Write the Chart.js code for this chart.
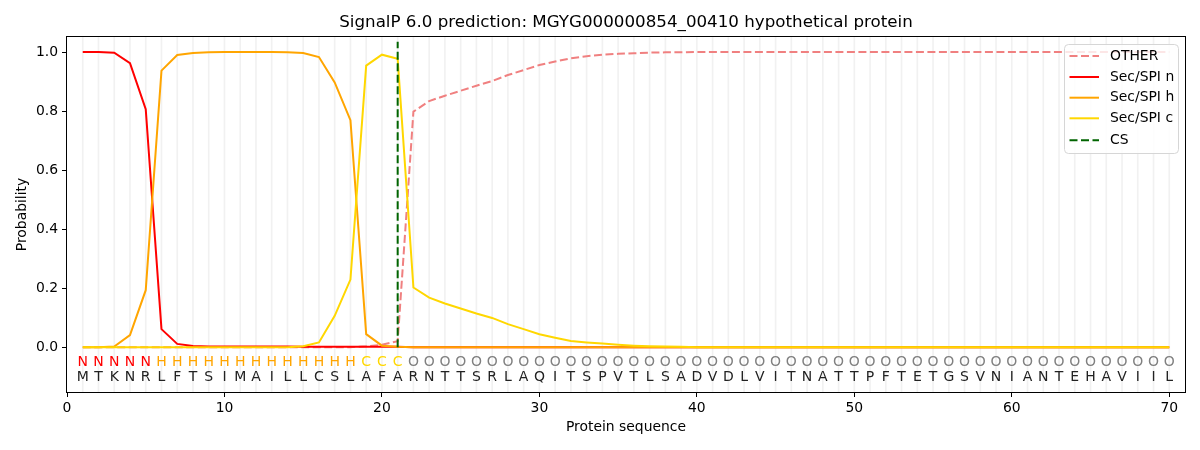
<!DOCTYPE html>
<html><head><meta charset="utf-8">
<script src="https://cdn.jsdelivr.net/npm/chart.js@4"></script>
<style>html,body{margin:0;padding:0;background:#fff}</style>
</head><body>
<canvas id="c" width="1200" height="450"></canvas>
<script>
// ---- data ----
const sequence = ["M","T","K","N","R","L","F","T","S","I","M","A","I","L","L","C","S","L","A","F",
  "A","R","N","T","T","S","R","L","A","Q","I","T","S","P","V","T","L","S","A","D",
  "V","D","L","V","I","T","N","A","T","T","P","F","T","E","T","G","S","V","N","I",
  "A","N","T","E","H","A","V","I","I","L"];
const regionLabels = ["N","N","N","N","N","H","H","H","H","H","H","H","H","H","H","H","H","H","C","C",
  "C","O","O","O","O","O","O","O","O","O","O","O","O","O","O","O","O","O","O","O",
  "O","O","O","O","O","O","O","O","O","O","O","O","O","O","O","O","O","O","O","O",
  "O","O","O","O","O","O","O","O","O","O"];
const otherProb = [0,0,0,0,0,0,0,0,0,0, 0,0,0,0,0,0,0,0,0.003,0.008,
  0.02,0.798,0.834,0.852,0.869,0.886,0.902,0.922,0.939,0.956, 0.968,0.979,0.986,0.991,0.994,0.996,0.998,0.999,0.999,1,
  1,1,1,1,1,1,1,1,1,1, 1,1,1,1,1,1,1,1,1,1, 1,1,1,1,1,1,1,1,1,1];
const secN = [1,1,0.998,0.962,0.806,0.061,0.011,0.004,0.002,0.002, 0.002,0.002,0.002,0.002,0.001,0.001,0.001,0.001,0.001,0.001,
  0.001,0,0,0,0,0,0,0,0,0, 0,0,0,0,0,0,0,0,0,0, 0,0,0,0,0,0,0,0,0,0, 0,0,0,0,0,0,0,0,0,0, 0,0,0,0,0,0,0,0,0,0];
const secH = [0,0,0.002,0.041,0.193,0.937,0.990,0.997,0.999,1, 1,1,1,0.999,0.997,0.983,0.897,0.769,0.044,0.005,
  0.001,0,0,0,0,0,0,0,0,0, 0,0,0,0,0,0,0,0,0,0, 0,0,0,0,0,0,0,0,0,0, 0,0,0,0,0,0,0,0,0,0, 0,0,0,0,0,0,0,0,0,0];
const secC = [0,0,0,0,0,0,0,0,0,0, 0,0,0,0,0.003,0.016,0.106,0.229,0.954,0.991,
  0.977,0.202,0.168,0.148,0.131,0.114,0.099,0.078,0.061,0.044, 0.032,0.021,0.016,0.012,0.008,0.005,0.003,0.002,0.001,0,
  0,0,0,0,0,0,0,0,0,0, 0,0,0,0,0,0,0,0,0,0, 0,0,0,0,0,0,0,0,0,0];
const csPosition = 21;
const csSpan = [0, 1.035];
const xTickValues = [0,10,20,30,40,50,60,70];
const yTickValues = [0,0.2,0.4,0.6,0.8,1.0];
const titleText = "SignalP 6.0 prediction: MGYG000000854_00410 hypothetical protein";

const positions = sequence.map((_, i) => i + 1);
const pts = arr => arr.map((v, i) => ({x: positions[i], y: v}));
const labelColors = {N: "#ff0000", H: "#ffa500", C: "#ffd700", O: "#808080"};

Chart.defaults.font.family = '"DejaVu Sans", sans-serif';
Chart.defaults.color = '#000';

const legendItems = [
  {label: "OTHER", color: "#f08080", dash: [8, 3.5]},
  {label: "Sec/SPI n", color: "#ff0000", dash: []},
  {label: "Sec/SPI h", color: "#ffa500", dash: []},
  {label: "Sec/SPI c", color: "#ffd700", dash: []},
  {label: "CS", color: "#006400", dash: [8, 3.5]}
];

const overlay = {
  id: 'overlay',
  beforeDatasetsDraw(chart) {
    const {ctx, chartArea: a, scales: {x}} = chart;
    ctx.save();
    ctx.strokeStyle = 'rgba(0,0,0,0.055)';
    ctx.lineWidth = 1.7;
    positions.forEach(p => {
      const px = x.getPixelForValue(p);
      ctx.beginPath(); ctx.moveTo(px, a.top); ctx.lineTo(px, a.bottom); ctx.stroke();
    });
    ctx.restore();
  },
  afterDatasetsDraw(chart) {
    const {ctx, chartArea: a, scales: {x, y}} = chart;
    ctx.save();
    ctx.font = '14px "DejaVu Sans"';
    ctx.textAlign = 'center';
    ctx.textBaseline = 'middle';
    positions.forEach((p, i) => {
      const px = x.getPixelForValue(p);
      ctx.fillStyle = labelColors[regionLabels[i]];
      ctx.fillText(regionLabels[i], px, y.getPixelForValue(-0.051));
      ctx.fillStyle = '#222';
      ctx.fillText(sequence[i], px, y.getPixelForValue(-0.103));
    });
    ctx.strokeStyle = '#000'; ctx.lineWidth = 1;
    ctx.strokeRect(Math.round(a.left) - 0.5, Math.round(a.top) - 0.5, Math.round(a.right - a.left) + 1, Math.round(a.bottom - a.top) + 1);
    ctx.restore();
  },
  afterDraw(chart) {
    const {ctx, chartArea: a} = chart;
    ctx.save();
    ctx.fillStyle = '#000';
    ctx.textAlign = 'center'; ctx.textBaseline = 'middle';
    ctx.font = '16.7px "DejaVu Sans"';
    ctx.fillText(titleText, (a.left + a.right) / 2, 23);
    ctx.font = '13.9px "DejaVu Sans"';
    ctx.fillText("Protein sequence", (a.left + a.right) / 2, 427);
    ctx.save();
    ctx.translate(22, (a.top + a.bottom) / 2);
    ctx.rotate(-Math.PI / 2);
    ctx.fillText("Probability", 0, 0);
    ctx.restore();
    // legend
    const bx = 1064.5, by = 44.5, bw = 114, bh = 109, r = 4;
    ctx.beginPath();
    ctx.moveTo(bx + r, by); ctx.lineTo(bx + bw - r, by); ctx.arcTo(bx + bw, by, bx + bw, by + r, r);
    ctx.lineTo(bx + bw, by + bh - r); ctx.arcTo(bx + bw, by + bh, bx + bw - r, by + bh, r);
    ctx.lineTo(bx + r, by + bh); ctx.arcTo(bx, by + bh, bx, by + bh - r, r);
    ctx.lineTo(bx, by + r); ctx.arcTo(bx, by, bx + r, by, r); ctx.closePath();
    ctx.fillStyle = 'rgba(255,255,255,0.8)'; ctx.fill();
    ctx.strokeStyle = '#d6d6d6'; ctx.lineWidth = 1; ctx.stroke();
    const ys = [56, 77, 97.7, 118.3, 140.3];
    ctx.textAlign = 'left';
    legendItems.forEach((it, i) => {
      ctx.beginPath(); ctx.setLineDash(it.dash);
      ctx.strokeStyle = it.color; ctx.lineWidth = 2;
      ctx.moveTo(1069.5, ys[i]); ctx.lineTo(1099, ys[i]); ctx.stroke();
      ctx.setLineDash([]);
      ctx.fillStyle = '#000';
      ctx.fillText(it.label, 1110, ys[i]);
    });
    ctx.restore();
  }
};

new Chart(document.getElementById('c'), {
  type: 'line',
  data: {datasets: [
    {label: 'CS', data: csSpan.map(v => ({x: csPosition, y: v})), borderColor: '#006400', borderDash: [8, 3.5], order: 0},
    {label: 'Sec/SPI c', data: pts(secC), borderColor: '#ffd700', order: 1},
    {label: 'Sec/SPI h', data: pts(secH), borderColor: '#ffa500', order: 2},
    {label: 'Sec/SPI n', data: pts(secN), borderColor: '#ff0000', order: 3},
    {label: 'OTHER', data: pts(otherProb), borderColor: '#f08080', borderDash: [8, 3.5], order: 4}
  ]},
  options: {
    responsive: false, animation: false, devicePixelRatio: 1,
    layout: {padding: {top: 37, right: 15, left: 0, bottom: 0}},
    plugins: {legend: {display: false}, title: {display: false}, tooltip: {enabled: false}},
    elements: {point: {radius: 0}, line: {tension: 0, borderWidth: 2, fill: false}},
    scales: {
      x: {
        type: 'linear', min: 0, max: 71,
        afterBuildTicks: s => { s.ticks = xTickValues.map(v => ({value: v})); },
        afterFit: s => { s.height = 58; },
        ticks: {autoSkip: false, maxRotation: 0, padding: 3, font: {size: 13.9}, callback: v => String(v)},
        grid: {drawOnChartArea: false, drawTicks: true, tickLength: 5, tickColor: '#000'},
        border: {display: false}
      },
      y: {
        type: 'linear', min: -0.152, max: 1.051,
        afterBuildTicks: s => { s.ticks = yTickValues.map(v => ({value: v})); },
        afterFit: s => { s.width = 67; },
        ticks: {padding: 4, font: {size: 13.9}, callback: v => v.toFixed(1)},
        grid: {drawOnChartArea: false, drawTicks: true, tickLength: 5, tickColor: '#000'},
        border: {display: false}
      }
    }
  },
  plugins: [overlay]
});
</script>
</body></html>
